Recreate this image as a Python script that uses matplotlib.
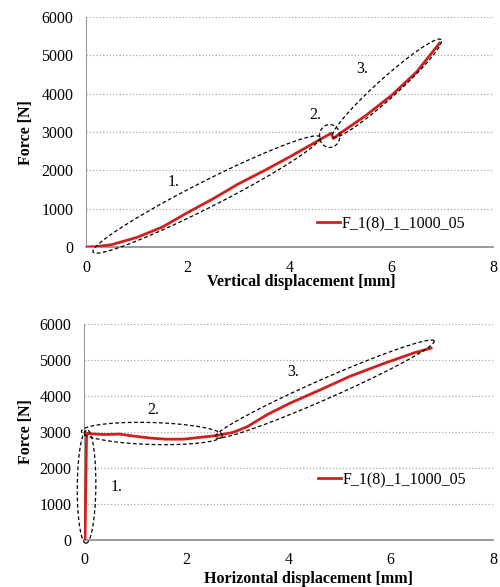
import matplotlib
matplotlib.use('Agg')
import matplotlib.pyplot as plt
import numpy as np

# Data

vert_disp = [0, 0.2, 0.5, 1.0, 1.5, 2.0, 2.5, 3.0, 3.5, 4.0, 4.4, 4.7, 4.82, 4.86, 5.0, 5.5, 6.0, 6.5, 6.95]
vert_force = [0, 10, 60, 250, 520, 900, 1260, 1650, 1990, 2350, 2650, 2880, 2970, 2830, 2970, 3430, 3950, 4570, 5320]

horiz_disp = [0.02, 0.03, 0.04, 0.05, 0.0, 0.1, 0.4, 0.7, 1.0, 1.3, 1.6, 1.95, 2.27, 2.6, 2.92, 3.2, 3.58, 4.03, 4.62, 5.2, 5.86, 6.45, 6.79]
horiz_force = [0, 1000, 2000, 2900, 2990, 2950, 2930, 2940, 2880, 2830, 2800, 2800, 2850, 2900, 2990, 3150, 3480, 3800, 4170, 4545, 4900, 5195, 5330]

series_name = 'F_1(8)_1_1000_05'
x_ticks = [0, 2, 4, 6, 8]
y_ticks = [0, 1000, 2000, 3000, 4000, 5000, 6000]

# Regions marked on each curve: (start point, end point, half width in px)
vert_regions = [((0.14, -130), (4.6, 2870), 13), ((4.59, 2896), (4.99, 2896), 11.5), ((4.85, 2870), (6.98, 5410), 10)]
horiz_regions = [((0.06, 3060), (0.04, -90), 9.3), ((-0.05, 3015), (2.71, 2900), 11), ((2.56, 2850), (6.85, 5530), 10)]

vert_labels = [(1.72, 1700, '1.'), (4.5, 3435, '2.'), (5.42, 4650, '3.')]
horiz_labels = [(0.64, 1484, '1.'), (1.36, 3618, '2.'), (4.1, 4657, '3.')]

plt.rcParams['font.family'] = ['Liberation Serif', 'DejaVu Serif']

fig = plt.figure(figsize=(5, 5.87), dpi=100)
ax1 = fig.add_axes([0.172, 0.5792, 0.814, 0.3918])
ax2 = fig.add_axes([0.168, 0.0801, 0.818, 0.368])


def region(ax, p1, p2, half_w):
    # ellipse built in pixel space so it is not squashed by the axis scales
    a = ax.transData.transform(p1)
    b = ax.transData.transform(p2)
    c = (a + b) / 2
    u = (b - a) / 2
    n = np.array([-u[1], u[0]]) / np.hypot(u[0], u[1]) * half_w
    t = np.linspace(0, 2 * np.pi, 200)
    pts = c + np.outer(np.cos(t), u) + np.outer(np.sin(t), n)
    pts = ax.transData.inverted().transform(pts)
    ax.plot(pts[:, 0], pts[:, 1], color='black', lw=0.9, ls=(0, (3, 2)), clip_on=False, zorder=4)


def setup(ax, xs, ys, regions, labels, xlabel, xlab_pos, ylab_pos, leg_pos):
    ax.set_xlim(0, 8)
    ax.set_ylim(0, 6000)
    ax.set_xticks(x_ticks)
    ax.set_yticks(y_ticks)
    ax.tick_params(length=0, labelsize=11.5, pad=9)
    ax.grid(axis='y', color='#aaaaaa', ls=':', lw=0.9)
    ax.set_axisbelow(True)
    for s in ['top', 'right']:
        ax.spines[s].set_visible(False)
    ax.spines['left'].set_color('#999999')
    ax.spines['bottom'].set_color('#888888')
    ax.spines['bottom'].set_linewidth(1.2)
    ax.plot(xs, ys, color='#d0201e', lw=2, label=series_name, zorder=3)
    for p1, p2, w in regions:
        region(ax, p1, p2, w)
    for x, y, s in labels:
        ax.text(x, y, s, fontsize=11.5, ha='center', va='center')
    ax.set_xlabel(xlabel, fontsize=11.5, fontweight='bold')
    ax.xaxis.set_label_coords(*xlab_pos)
    ax.set_ylabel('Force [N]', fontsize=11.5, fontweight='bold')
    ax.yaxis.set_label_coords(*ylab_pos)
    ax.legend(loc='center left', bbox_to_anchor=leg_pos, frameon=False, fontsize=11.5,
              handlelength=1.45, handletextpad=0.1, borderaxespad=0)


setup(ax1, vert_disp, vert_force, vert_regions, vert_labels, 'Vertical displacement [mm]',
      (0.53, -0.118), (-0.128, 0.496), (0.551, 0.1))
setup(ax2, horiz_disp, horiz_force, horiz_regions, horiz_labels, 'Horizontal displacement [mm]',
      (0.548, -0.145), (-0.122, 0.5), (0.556, 0.278))

fig.savefig('out.png', dpi=100)
